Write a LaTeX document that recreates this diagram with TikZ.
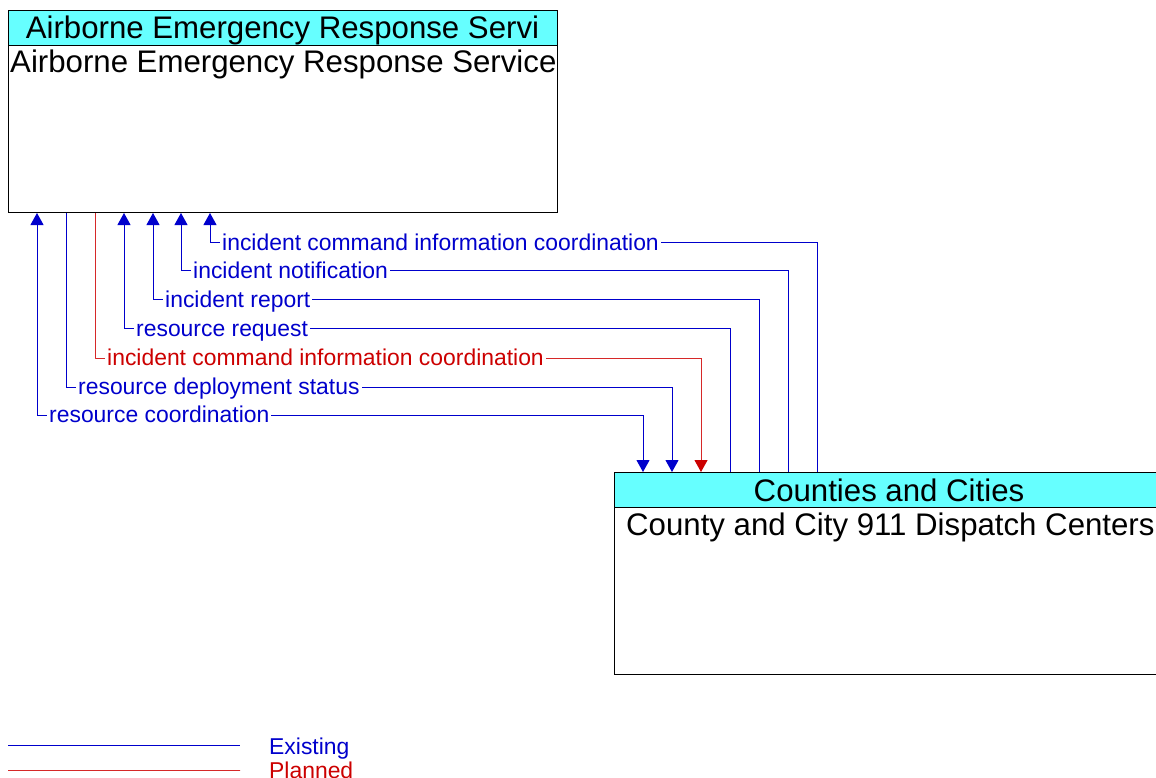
\documentclass[tikz,border=0pt]{standalone}
\usepackage{fontspec}
\setmainfont{Liberation Sans}
\usetikzlibrary{arrows.meta}
\definecolor{exblue}{RGB}{0,0,204}
\definecolor{plred}{RGB}{204,0,0}
\definecolor{plline}{RGB}{214,40,40}
\definecolor{hdrcyan}{RGB}{102,255,255}
\begin{document}
\begin{tikzpicture}[x=1pt,y=-1pt,
  frame/.style={draw=black, line width=1pt, fill=white, inner sep=0pt, anchor=north west},
  header/.style={draw=black, line width=1pt, fill=hdrcyan, inner sep=0pt, anchor=north west},
  titletext/.style={font=\fontsize{31.2}{36}\selectfont, inner sep=0pt},
  flowlabel/.style={font=\fontsize{22.9}{27}\selectfont, fill=white, inner xsep=2pt, inner ysep=1pt, anchor=base west},
  exline/.style={draw=exblue, line width=1pt},
  plline/.style={draw=plline, line width=1pt, dash pattern=on 0.8pt off 0.2pt},
  tip/.style={-{Triangle[width=13pt,length=12pt]}},
  pltip/.style={-{Triangle[width=13pt,length=12pt,fill=plred,color=plred]}},
  tips/.style={{Triangle[width=13pt,length=12pt]}-{Triangle[width=13pt,length=12pt]}},
]
\useasboundingbox (0,0) rectangle (1156,778);
\clip (0,0) rectangle (1156,778);

% Airborne Emergency Response Service
\node[frame, minimum width=549pt, minimum height=202pt] (aers) at (8,10) {};
\node[header, minimum width=549pt, minimum height=35pt] (aersh) at (8,10) {};
\node[titletext, anchor=base] (aersht) at (282.5,39) {Airborne Emergency Response Servi};
\node[titletext, anchor=base west] (aersbt) at (10,73) {Airborne Emergency Response Service};

% County and City 911 Dispatch Centers
\node[frame, minimum width=550pt, minimum height=202pt] (cc) at (614,472) {};
\node[header, minimum width=550pt, minimum height=35pt] (cch) at (614,472) {};
\node[titletext, anchor=base] (ccht) at (889,501) {Counties and Cities};
\node[titletext, anchor=base west] (ccbt) at (626,535) {County and City 911 Dispatch Centers};

% flows
\draw[exline, tip] ([xshift=203pt]cc.north west) -- ++(0,-230) -| ([xshift=202pt]aers.south west);
\draw[exline, tip] ([xshift=174pt]cc.north west) -- ++(0,-202) -| ([xshift=173pt]aers.south west);
\draw[exline, tip] ([xshift=145pt]cc.north west) -- ++(0,-173) -| ([xshift=145pt]aers.south west);
\draw[exline, tip] ([xshift=116pt]cc.north west) -- ++(0,-144) -| ([xshift=116pt]aers.south west);
\draw[plline, pltip] ([xshift=87pt]aers.south west) -- ++(0,145) -| ([xshift=87pt]cc.north west);
\draw[exline, tip] ([xshift=58pt]aers.south west) -- ++(0,174) -| ([xshift=58pt]cc.north west);
\draw[exline, tips] ([xshift=29pt]aers.south west) -- ++(0,202) -| ([xshift=29pt]cc.north west);

\node[flowlabel, text=exblue] (f1) at (220,250) {incident command information coordination};
\node[flowlabel, text=exblue] (f2) at (191,278) {incident notification};
\node[flowlabel, text=exblue] (f3) at (163,307) {incident report};
\node[flowlabel, text=exblue] (f4) at (134,336) {resource request};
\node[flowlabel, text=plred] (f5) at (105,365) {incident command information coordination};
\node[flowlabel, text=exblue] (f6) at (76,394) {resource deployment status};
\node[flowlabel, text=exblue] (f7) at (47,422) {resource coordination};

% legend
\coordinate (le1) at (8,745);
\coordinate (le2) at (240,745);
\coordinate (lp1) at (8,770);
\coordinate (lp2) at (240,770);
\draw[exline] (le1) -- (le2);
\draw[plline] (lp1) -- (lp2);
\node[flowlabel, fill=none, text=exblue] (lex) at (267,754) {Existing};
\node[flowlabel, fill=none, text=plred] (lpl) at (267,778) {Planned};
\end{tikzpicture}
\end{document}
